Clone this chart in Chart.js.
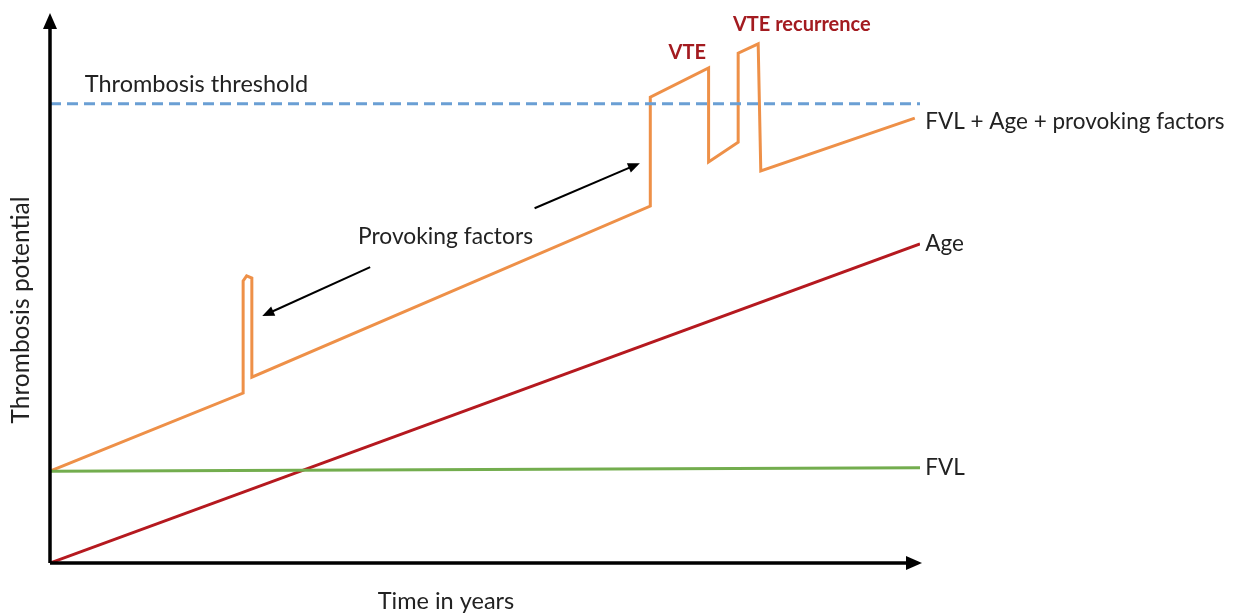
<!DOCTYPE html>
<html>
<head>
<meta charset="utf-8">
<script src="https://cdn.jsdelivr.net/npm/chart.js@4"></script>
<style>
  html, body { margin: 0; padding: 0; background: #fff; }
  #wrap { width: 1234px; height: 614px; }
</style>
</head>
<body>
<div id="wrap"><canvas id="chart"></canvas></div>
<script>
// time axis 0..100, potential axis 0..100 (arbitrary units)
const combinedX = [0, 22.2, 22.2, 22.6, 23.2, 23.2, 69.0, 69.0, 75.7, 75.7, 79.1, 79.1, 81.4, 81.7, 99.4];
const combinedY = [16.7, 30.9, 51.3, 52.2, 51.8, 33.8, 64.9, 84.7, 90.0, 72.9, 76.5, 92.7, 94.4, 71.3, 80.9];
const ageX = [0, 100];
const ageY = [0, 58.0];
const fvlX = [0, 100];
const fvlY = [16.7, 17.3];
const thresholdX = [0, 100];
const thresholdY = [83.5, 83.5];

const labels = [
    { text: 'Thrombosis threshold', x: 4.0, y: 87.0, color: '#222', bold: false, size: 23.5 },
    { text: 'FVL + Age + provoking factors', x: 100.6, y: 80.3, color: '#222', bold: false, size: 22.5 },
    { text: 'Age', x: 100.6, y: 58.0, color: '#222', bold: false, size: 22.5 },
    { text: 'FVL', x: 100.6, y: 17.4, color: '#222', bold: false, size: 22.5 },
    { text: 'VTE', x: 71.1, y: 92.9, color: '#A31B20', bold: true, size: 20 },
    { text: 'VTE recurrence', x: 78.5, y: 97.9, color: '#A31B20', bold: true, size: 20 },
    { text: 'Provoking factors', x: 35.4, y: 59.3, color: '#222', bold: false, size: 22.8 }
];
const pointers = [
    { from: [55.7, 64.5], to: [67.8, 72.7] },
    { from: [36.8, 53.8], to: [24.4, 44.9] }
];

const toPts = (xs, ys) => xs.map((x, i) => ({ x: x, y: ys[i] }));

function arrowHead(c, x1, y1, x2, y2, len, wid) {
    const a = Math.atan2(y2 - y1, x2 - x1);
    c.beginPath();
    c.moveTo(x2, y2);
    c.lineTo(x2 - len * Math.cos(a) + wid * Math.sin(a), y2 - len * Math.sin(a) - wid * Math.cos(a));
    c.lineTo(x2 - len * Math.cos(a) - wid * Math.sin(a), y2 - len * Math.sin(a) + wid * Math.cos(a));
    c.closePath();
    c.fill();
}

const decorations = {
    id: 'decorations',
    afterDatasetsDraw(chart) {
        const c = chart.ctx;
        const xs = chart.scales.x, ys = chart.scales.y;
        const area = chart.chartArea;
        c.save();
        // axes with arrows
        c.strokeStyle = '#000';
        c.fillStyle = '#000';
        c.lineWidth = 3.5;
        c.beginPath();
        c.moveTo(area.left, area.bottom);
        c.lineTo(area.left, area.top + 14);
        c.moveTo(area.left, area.bottom);
        c.lineTo(area.right - 6, area.bottom);
        c.stroke();
        arrowHead(c, area.left, area.bottom, area.left, area.top, 16, 7);
        arrowHead(c, area.left, area.bottom, area.right + 2, area.bottom, 16, 7);

        // pointer arrows
        c.lineWidth = 2;
        pointers.forEach(p => {
            const x1 = xs.getPixelForValue(p.from[0]), y1 = ys.getPixelForValue(p.from[1]);
            const x2 = xs.getPixelForValue(p.to[0]), y2 = ys.getPixelForValue(p.to[1]);
            const a = Math.atan2(y2 - y1, x2 - x1);
            c.beginPath();
            c.moveTo(x1, y1);
            c.lineTo(x2 - 8 * Math.cos(a), y2 - 8 * Math.sin(a));
            c.stroke();
            arrowHead(c, x1, y1, x2, y2, 12, 5);
        });

        // text labels
        c.textBaseline = 'middle';
        c.textAlign = 'left';
        labels.forEach(l => {
            c.font = (l.bold ? 'bold ' : '') + l.size + 'px Lato, "Open Sans", sans-serif';
            c.fillStyle = l.color;
            c.fillText(l.text, xs.getPixelForValue(l.x), ys.getPixelForValue(l.y));
        });

        // axis titles
        c.fillStyle = '#222';
        c.font = '23.5px Lato, "Open Sans", sans-serif';
        c.textAlign = 'center';
        c.fillText('Time in years', 446, 601);
        c.font = '24.5px Lato, "Open Sans", sans-serif';
        c.translate(21, 310);
        c.rotate(-Math.PI / 2);
        c.fillText('Thrombosis potential', 0, 0);
        c.restore();
    }
};

new Chart(document.getElementById('chart'), {
    type: 'scatter',
    data: {
        datasets: [
            {
                label: 'Thrombosis threshold',
                data: toPts(thresholdX, thresholdY),
                borderColor: '#6A9FD4',
                borderWidth: 3,
                borderDash: [11, 6],
                showLine: true,
                pointRadius: 0
            },
            {
                label: 'FVL',
                data: toPts(fvlX, fvlY),
                borderColor: '#73AD4E',
                borderWidth: 3,
                showLine: true,
                pointRadius: 0
            },
            {
                label: 'Age',
                data: toPts(ageX, ageY),
                borderColor: '#B5191F',
                borderWidth: 3,
                showLine: true,
                pointRadius: 0
            },
            {
                label: 'FVL + Age + provoking factors',
                data: toPts(combinedX, combinedY),
                borderColor: '#EE9048',
                borderWidth: 3,
                showLine: true,
                pointRadius: 0
            }
        ]
    },
    options: {
        responsive: true,
        maintainAspectRatio: false,
        animation: false,
        layout: { padding: { left: 50, right: 314, top: 13, bottom: 51 } },
        plugins: {
            legend: { display: false },
            tooltip: { enabled: false }
        },
        scales: {
            x: { type: 'linear', min: 0, max: 100, display: false },
            y: { type: 'linear', min: 0, max: 100, display: false }
        }
    },
    plugins: [decorations]
});
</script>
</body>
</html>
